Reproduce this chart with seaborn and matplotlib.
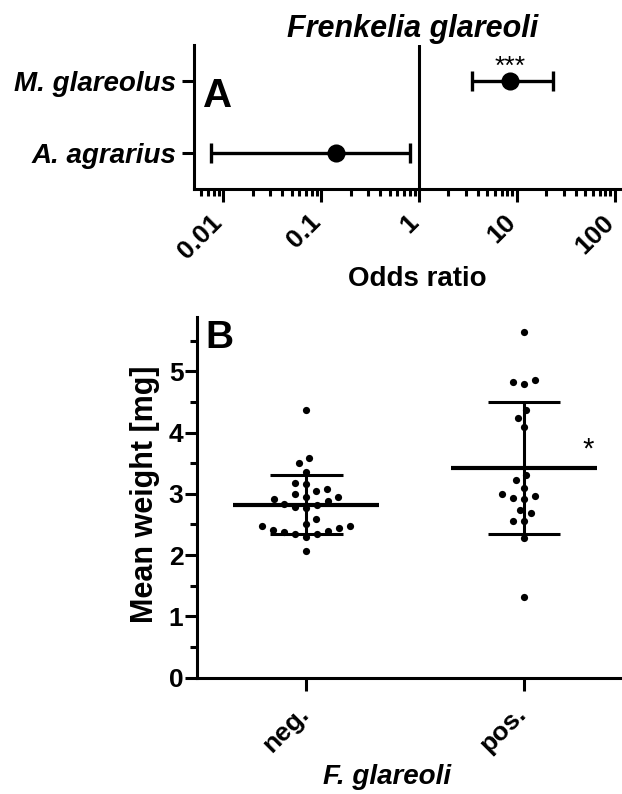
import numpy as np
import pandas as pd
import seaborn as sns
import matplotlib.pyplot as plt
from matplotlib.transforms import ScaledTranslation
from matplotlib.ticker import LogLocator, FixedLocator, MultipleLocator, NullFormatter

# Panel A: odds ratios with 95% CI
species = ['M. glareolus', 'A. agrarius']
odds_ratio = [8.5, 0.141]
ci_low = [3.5, 0.0075]
ci_high = [23.5, 0.81]
sig_a = ['***', '']
or_ticks = [0.01, 0.1, 1, 10, 100]
or_labels = ['0.01', '0.1', '1', '10', '100']

# Panel B: mean weight per animal, F. glareoli negative / positive
groups = ['neg.', 'pos.']
weight_neg = [4.36, 3.59, 3.50, 3.36, 3.18, 3.16, 3.08, 3.05, 2.99, 2.95,
              2.92, 2.95, 2.89, 2.84, 2.82, 2.79, 2.77, 2.59, 2.50, 2.47,
              2.47, 2.41, 2.45, 2.37, 2.35, 2.39, 2.35, 2.30, 2.06]
weight_pos = [5.64, 4.83, 4.80, 4.85, 4.37, 4.24, 4.09, 3.30, 3.22, 3.10,
              2.97, 2.92, 2.94, 2.99, 2.74, 2.69, 2.55, 2.56, 2.28, 1.31]
sig_b = ['', '*']

sns.set_theme(style='ticks')
plt.rcParams['font.family'] = ['Liberation Sans', 'DejaVu Sans']
plt.rcParams['font.weight'] = 'bold'
plt.rcParams['axes.linewidth'] = 2.2
for key in ['text.color', 'axes.labelcolor', 'xtick.color', 'ytick.color',
            'axes.edgecolor']:
    plt.rcParams[key] = 'black'

LW = 2.2

fig = plt.figure(figsize=(6.22, 7.94), dpi=100)
ax_a = fig.add_axes([0.312, 0.7616, 0.688, 0.1817])
ax_b = fig.add_axes([0.3172, 0.1465, 0.6828, 0.4546])


def shift_labels(labels, dx_px):
    # nudge rotated tick labels sideways (pixels)
    off = ScaledTranslation(dx_px / 100, 0, fig.dpi_scale_trans)
    for lab in labels:
        lab.set_rotation(45)
        lab.set_ha('right')
        lab.set_transform(lab.get_transform() + off)


# ---------- panel A ----------
df_a = pd.DataFrame({'species': species, 'OR': odds_ratio})
sns.pointplot(data=df_a, x='OR', y='species', order=species, errorbar=None,
              linestyle='none', color='black', markersize=11, log_scale=True,
              ax=ax_a, zorder=4)
ypos = np.arange(len(species))
lo = np.array(odds_ratio) - np.array(ci_low)
hi = np.array(ci_high) - np.array(odds_ratio)
ax_a.errorbar(odds_ratio, ypos, xerr=[lo, hi], fmt='none', ecolor='black',
              elinewidth=2.4, capsize=7, capthick=2.4, zorder=3)
for y, x, s in zip(ypos, odds_ratio, sig_a):
    if s:
        ax_a.text(x, y - 0.2, s, ha='center', va='center', fontsize=19,
                  fontweight='normal')
ax_a.axvline(1, color='black', lw=LW)

ax_a.set_xscale('log')
ax_a.set_xlim(0.00506, 118)
ax_a.set_ylim(1.5, -0.5)
ax_a.xaxis.set_major_locator(FixedLocator(or_ticks))
ax_a.set_xticklabels(or_labels)
ax_a.xaxis.set_minor_locator(LogLocator(base=10, subs=np.arange(2, 10)))
ax_a.xaxis.set_minor_formatter(NullFormatter())
ax_a.set_yticks(ypos)
ax_a.set_yticklabels(species, fontsize=20, fontstyle='italic', fontweight='bold')
ax_a.tick_params(axis='x', which='major', length=9, width=LW, labelsize=19, pad=6)
ax_a.tick_params(axis='x', which='minor', length=5, width=LW)
ax_a.tick_params(axis='y', length=9, width=LW, pad=4)
shift_labels(ax_a.get_xticklabels(), 4)
ax_a.set_xlabel('Odds ratio', fontsize=20, fontweight='bold')
ax_a.set_ylabel('')
ax_a.xaxis.set_label_coords(0.521, -0.53)
ax_a.set_title('Frenkelia glareoli', fontsize=22, fontstyle='italic',
               fontweight='bold', x=0.51, pad=6)
ax_a.text(0.02, 0.57, 'A', transform=ax_a.transAxes, fontsize=29,
          fontweight='bold', va='baseline', ha='left')
sns.despine(ax=ax_a)

# ---------- panel B ----------
df_b = pd.DataFrame({
    'group': [groups[0]] * len(weight_neg) + [groups[1]] * len(weight_pos),
    'weight': weight_neg + weight_pos,
})
# transparent edge widens the swarm spacing without enlarging the dots
sns.swarmplot(data=df_b, x='group', y='weight', order=groups, color='black',
              size=5.2, linewidth=2.6, edgecolor=(1, 1, 1, 0), ax=ax_b, zorder=3)
for i, vals in enumerate([weight_neg, weight_pos]):
    m = np.mean(vals)
    s = np.std(vals, ddof=1)
    ax_b.hlines(m, i - 0.334, i + 0.334, color='black', lw=3, zorder=4)
    ax_b.vlines(i, m - s, m + s, color='black', lw=LW, zorder=4)
    ax_b.hlines([m - s, m + s], i - 0.167, i + 0.167, color='black', lw=LW, zorder=4)
    if sig_b[i]:
        ax_b.text(i + 0.295, m + 0.3, sig_b[i], ha='center', va='center',
                  fontsize=21, fontweight='normal')

ax_b.set_xlim(-0.5, 1.45)
ax_b.set_ylim(0, 5.89)
ax_b.yaxis.set_major_locator(MultipleLocator(1))
ax_b.yaxis.set_minor_locator(MultipleLocator(0.5))
ax_b.tick_params(axis='y', which='major', length=9, width=LW, labelsize=19, pad=1)
ax_b.tick_params(axis='y', which='minor', length=5, width=LW)
ax_b.tick_params(axis='x', length=9, width=LW, labelsize=19, pad=8)
shift_labels(ax_b.get_xticklabels(), 7)
ax_b.set_ylabel('Mean weight [mg]', fontsize=22, fontweight='bold')
ax_b.set_xlabel('F. glareoli', fontsize=20, fontweight='bold', fontstyle='italic')
ax_b.yaxis.set_label_coords(-0.088, 0.507)
ax_b.xaxis.set_label_coords(0.447, -0.24)
ax_b.text(0.018, 0.912, 'B', transform=ax_b.transAxes, fontsize=28,
          fontweight='bold', va='baseline', ha='left')
sns.despine(ax=ax_b)

fig.savefig('out.png', dpi=100)
